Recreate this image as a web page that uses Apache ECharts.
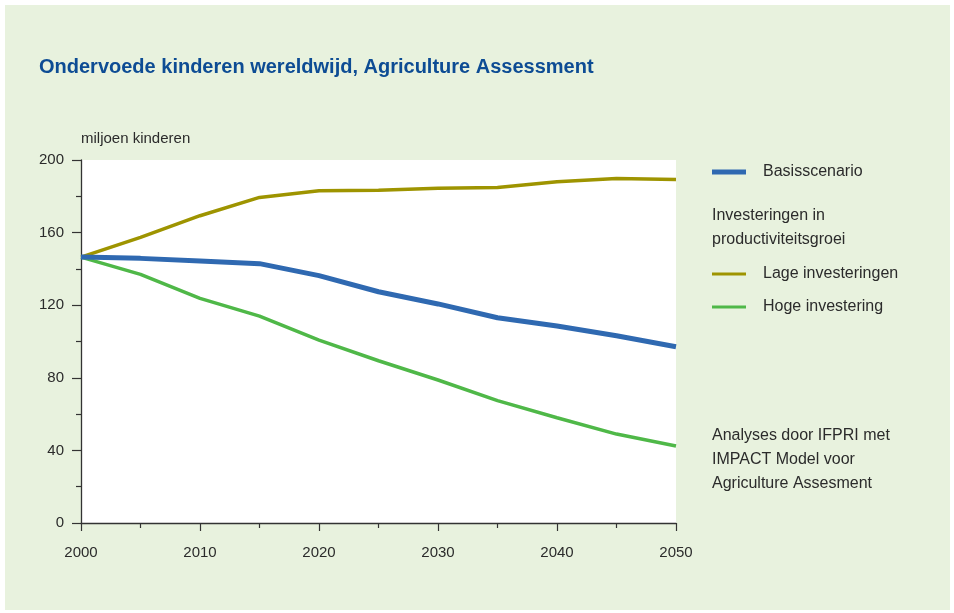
<!DOCTYPE html>
<html>
<head>
<meta charset="utf-8">
<script src="https://cdn.jsdelivr.net/npm/echarts@6/dist/echarts.min.js"></script>
<style>
html,body{margin:0;padding:0;background:#ffffff;}
#bg{position:absolute;left:5px;top:5px;width:945px;height:605px;background:#e8f2de;}
#c{position:absolute;left:0;top:0;width:954px;height:613px;}
</style>
</head>
<body>
<div id="bg"></div>
<div id="c"></div>
<script>
var years = [2000, 2005, 2010, 2015, 2020, 2025, 2030, 2035, 2040, 2045, 2050];
var basis = [146.5, 145.8, 144.4, 142.9, 136.3, 127.4, 120.7, 113.1, 108.5, 103.2, 97.1];
var lage  = [146.5, 157.4, 169.3, 179.4, 183.1, 183.3, 184.4, 184.8, 188.0, 189.8, 189.2];
var hoge  = [146.5, 137.0, 123.8, 114.0, 100.8, 89.4, 78.8, 67.4, 58.0, 49.0, 42.4];
var seriesNames = ['Basisscenario', 'Lage investeringen', 'Hoge investering'];
var yTicks = [0, 40, 80, 120, 160, 200];
var xTicks = [2000, 2010, 2020, 2030, 2040, 2050];

var FONT = '"Liberation Sans Narrow", "Arial Narrow", "Liberation Sans", Arial, sans-serif';
var TXT = '#2b2b2b';
function pairs(v){ return years.map(function(y,i){ return [y, v[i]]; }); }

var chart = echarts.init(document.getElementById('c'), null, {renderer:'canvas'});
chart.setOption({
  backgroundColor: 'transparent',
  animation: false,
  textStyle: {fontFamily: FONT},
  title: {
    text: 'Ondervoede kinderen wereldwijd, Agriculture Assessment',
    left: 34, top: 52,
    textStyle: {fontFamily: FONT, fontWeight: 'bold', fontSize: 20, color: '#0d4c94'}
  },
  grid: {left: 81, top: 160, width: 595, height: 363, show: true, backgroundColor: '#ffffff', borderWidth: 0},
  xAxis: {
    type: 'value', min: xTicks[0], max: xTicks[xTicks.length-1], interval: 10,
    axisLine: {show: true, onZero: false, lineStyle: {color: '#333', width: 1.3}},
    axisTick: {show: true, inside: false, length: 8, lineStyle: {color: '#333', width: 1.2}},
    minorTick: {show: true, splitNumber: 2, length: 5, lineStyle: {color: '#333', width: 1.2}},
    splitLine: {show: false},
    axisLabel: {margin: 22, fontSize: 15, color: TXT, fontFamily: FONT, formatter: function(v){ return String(v); }}
  },
  yAxis: {
    type: 'value', min: yTicks[0], max: yTicks[yTicks.length-1], interval: 40,
    name: 'miljoen kinderen', nameLocation: 'end', nameGap: 14,
    nameTextStyle: {align: 'left', fontSize: 15, color: TXT, fontFamily: FONT},
    axisLine: {show: true, lineStyle: {color: '#333', width: 1.3}},
    axisTick: {show: true, length: 9, lineStyle: {color: '#333', width: 1.2}},
    minorTick: {show: true, splitNumber: 2, length: 5, lineStyle: {color: '#333', width: 1.2}},
    splitLine: {show: false},
    axisLabel: {margin: 17, fontSize: 15, color: TXT, fontFamily: FONT}
  },
  legend: [
    {
      data: [{name: seriesNames[0], icon: 'rect'}],
      left: 707, top: 157, orient: 'vertical',
      itemWidth: 34, itemHeight: 5,
      textStyle: {fontSize: 16, color: TXT, fontFamily: FONT, padding: [0,0,0,12], lineHeight: 20},
      selectedMode: false
    },
    {
      data: [{name: seriesNames[1], icon: 'rect'}, {name: seriesNames[2], icon: 'rect'}],
      left: 707, top: 259, orient: 'vertical', itemGap: 13,
      itemWidth: 34, itemHeight: 3,
      textStyle: {fontSize: 16, color: TXT, fontFamily: FONT, padding: [0,0,0,12], lineHeight: 20},
      selectedMode: false
    }
  ],
  graphic: [
    {type: 'text', left: 712, top: 204, style: {text: 'Investeringen in\nproductiviteitsgroei', fontSize: 16, lineHeight: 24, fill: TXT, fontFamily: FONT}},
    {type: 'text', left: 712, top: 424, style: {text: 'Analyses door IFPRI met\nIMPACT Model voor\nAgriculture Assesment', fontSize: 16, lineHeight: 24, fill: TXT, fontFamily: FONT}}
  ],
  series: [
    {name: seriesNames[0], type: 'line', data: pairs(basis), showSymbol: false, symbol: 'none', lineStyle: {color: '#2f69b1', width: 5}, itemStyle: {color: '#2f69b1'}, z: 4},
    {name: seriesNames[1], type: 'line', data: pairs(lage), showSymbol: false, symbol: 'none', lineStyle: {color: '#9e9400', width: 3.5}, itemStyle: {color: '#9e9400'}, z: 3},
    {name: seriesNames[2], type: 'line', data: pairs(hoge), showSymbol: false, symbol: 'none', lineStyle: {color: '#4fb848', width: 3.5}, itemStyle: {color: '#4fb848'}, z: 3}
  ]
});
</script>
</body>
</html>
